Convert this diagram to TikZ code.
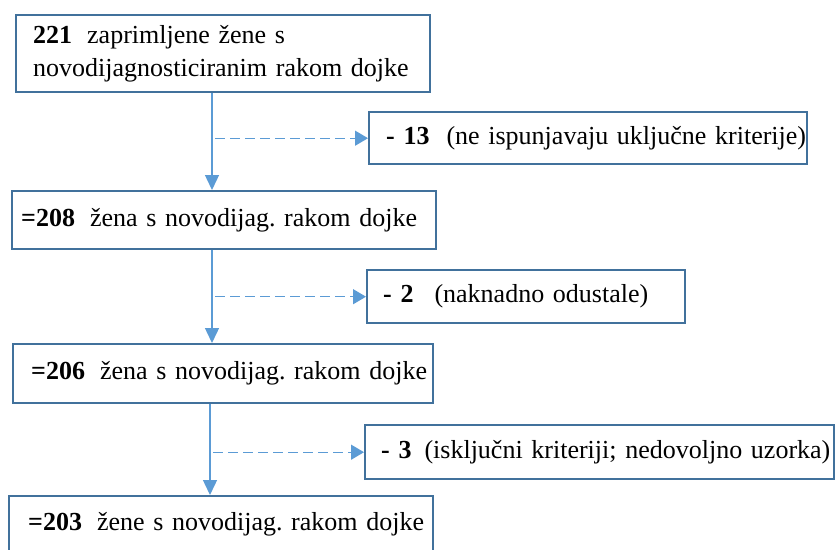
\documentclass[tikz,border=0pt]{standalone}
\usepackage{fontspec}
\setmainfont{Liberation Serif}
\usepackage{tikz}
\usetikzlibrary{arrows.meta}
\definecolor{boxline}{RGB}{65,113,156}
\definecolor{flowline}{RGB}{91,155,213}
\newcommand{\numgap}{\hspace{15pt}}
\frenchspacing

\begin{document}
\begin{tikzpicture}[x=1pt,y=-1pt,
    flowbox/.style={draw=boxline,line width=2.4pt,anchor=north west,align=left,
        inner ysep=0pt,font=\fontsize{26}{33}\selectfont},
    flow/.style={draw=flowline,line width=1.4pt,-{Triangle[length=15pt,width=14pt]}},
    skip/.style={flow,dash pattern=on 10pt off 5pt,-{Triangle[length=13pt,width=15pt]}}]
    \useasboundingbox (0,0) rectangle (835,549);
    % main column
    \node[flowbox,inner xsep=17pt,text width=380pt,minimum height=77pt] (b1) at (15,14)
        {\mbox{\textbf{221}\numgap zaprimljene žene s}\\\mbox{novodijagnosticiranim rakom dojke}};
    \node[flowbox,inner xsep=9pt,text width=406pt,minimum height=58pt] (b2) at (11,190)
        {\mbox{\textbf{=208}\numgap žena s novodijag. rakom dojke}};
    \node[flowbox,inner xsep=18pt,text width=384pt,minimum height=59pt] (b3) at (12,343)
        {\mbox{\textbf{=206}\numgap žena s novodijag. rakom dojke}};
    \node[flowbox,inner xsep=19pt,text width=386pt,minimum height=57pt] (b4) at (8,495)
        {\mbox{\textbf{=203}\numgap žene s novodijag. rakom dojke}};
    % excluded
    \node[flowbox,inner xsep=17pt,text width=404pt,minimum height=52pt] (s1) at (368,111)
        {\mbox{\textbf{- 13}\hspace{17pt}(ne ispunjavaju uključne kriterije)}};
    \node[flowbox,inner xsep=16pt,text width=286pt,minimum height=53pt] (s2) at (366,269)
        {\mbox{\textbf{- 2}\hspace{21pt}(naknadno odustale)}};
    \node[flowbox,inner xsep=16pt,text width=437pt,minimum height=54pt] (s3) at (364,424)
        {\mbox{\textbf{- 3}\hspace{13pt}(isključni kriteriji; nedovoljno uzorka)}};
    % connectors
    \coordinate (v1) at (212,0);
    \coordinate (v2) at (212,0);
    \coordinate (v3) at (210,0);
    \draw[flow] (v1 |- b1.south) -- (v1 |- b2.north);
    \draw[flow] (v2 |- b2.south) -- (v2 |- b3.north);
    \draw[flow] (v3 |- b3.south) -- (v3 |- b4.north);
    \draw[skip] ([xshift=3pt]v1 |- s1.west) -- (s1.west);
    \draw[skip] ([xshift=3pt]v2 |- s2.west) -- (s2.west);
    \draw[skip] ([xshift=3pt]v3 |- s3.west) -- (s3.west);
\end{tikzpicture}
\end{document}
